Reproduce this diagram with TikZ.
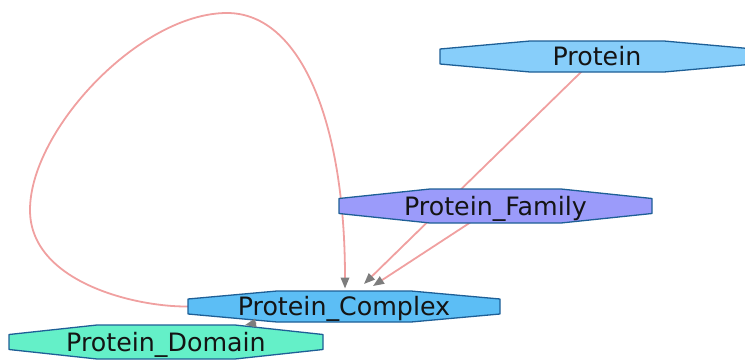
\documentclass[tikz,border=0pt]{standalone}
\usepackage{fontspec}
\setmainfont{DejaVu Sans}
\usetikzlibrary{arrows.meta,calc}
\pgfdeclarelayer{background}
\pgfsetlayers{background,main}
\definecolor{edgepink}{RGB}{240,160,160}
\definecolor{tipgray}{RGB}{125,125,125}
\definecolor{octline}{RGB}{30,95,150}
\definecolor{fillP}{RGB}{135,206,250}
\definecolor{fillF}{RGB}{155,155,250}
\definecolor{fillC}{RGB}{92,190,245}
\definecolor{fillD}{RGB}{100,240,200}
\definecolor{txt}{RGB}{20,20,20}
\tikzset{
  edge/.style={draw=edgepink, line width=1.8pt, -{Triangle[length=11pt,width=8.5pt,color=tipgray]}},
  octborder/.style={draw=octline, line width=1.3pt, line join=round},
  lbl/.style={inner sep=0pt, text=txt, font=\fontsize{25.3}{30}\selectfont, text height=18.5pt, text depth=0pt},
}
% name, cx, cy, half width, half height, inset, fill, text
\newcommand{\octnode}[8]{%
  \path[octborder, fill=#7] (#2-#4,#3-7.5) -- (#2-#4+#6,#3-#5) -- (#2+#4-#6,#3-#5) -- (#2+#4,#3-7.5)
     -- (#2+#4,#3+7.5) -- (#2+#4-#6,#3+#5) -- (#2-#4+#6,#3+#5) -- (#2-#4,#3+7.5) -- cycle;
  \node[lbl, minimum width={2*#4*1pt}, minimum height={2*#5*1pt}] (#1) at (#2,#3) {#8};
}
\begin{document}
\begin{tikzpicture}[x=1pt, y=-1pt]
\useasboundingbox (0,0) rectangle (745,362);
\clip (0,0) rectangle (745,362);
\octnode{P}{597}{56.5}{157}{15.5}{90}{fillP}{Protein}
\octnode{F}{495.5}{206}{156.5}{17}{91}{fillF}{Protein\_Family}
\octnode{C}{344}{306.5}{156}{15.5}{89}{fillC}{Protein\_Complex}
\octnode{D}{166}{342}{157}{17}{88}{fillD}{Protein\_Domain}
\coordinate (ptip) at (364,284);
\coordinate (ftip) at (373,286);
\coordinate (ltip) at (345,288.5);
\coordinate (dtip) at (245,325);
\begin{pgfonlayer}{background}
  \draw[edge] (P.center) -- (ptip);
  \draw[edge] (F.center) -- (ftip);
  \draw[edge] (C.west) .. controls (135,307) and (30,282) .. (30,210)
     .. controls (30,130) and (140,13) .. (227,13)
     .. controls (300,13) and (345,120) .. (ltip);
\end{pgfonlayer}
\draw[edge] ($(dtip)!11.5pt!(C.center)$) -- (dtip);
\end{tikzpicture}
\end{document}
